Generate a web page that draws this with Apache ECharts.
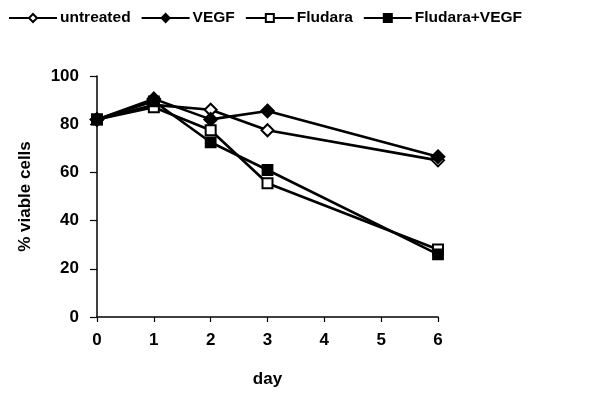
<!DOCTYPE html>
<html>
<head>
<meta charset="utf-8">
<script src="https://cdn.jsdelivr.net/npm/echarts@6/dist/echarts.min.js"></script>
<style>
  html, body { margin: 0; padding: 0; background: #fff; }
  #chart { width: 595px; height: 397px; }
</style>
</head>
<body>
<div id="chart"></div>
<script>
// Viability of cells over time under four treatments
const days = [0, 1, 2, 3, 6];
const untreated = [82, 88, 86, 77.5, 65];
const vegf = [82, 90.5, 82, 85.5, 66.5];
const fludara = [82, 87, 77.5, 55.5, 28];
const fludaraVegf = [82, 89.5, 72.5, 61, 26];
const seriesNames = ['untreated', 'VEGF', 'Fludara', 'Fludara+VEGF'];
const seriesSymbols = ['emptyDiamond', 'diamond', 'emptyRect', 'rect'];
const seriesSizes = [12, 13, 10, 10];
const seriesValues = [untreated, vegf, fludara, fludaraVegf];

const font = 'Liberation Sans, Arial, sans-serif';

const chart = echarts.init(document.getElementById('chart'), null, { renderer: 'canvas' });

chart.setOption({
  animation: false,
  backgroundColor: '#fff',
  legend: {
    top: 5,
    left: 3,
    itemWidth: 48,
    itemHeight: 10,
    itemGap: 10,
    textStyle: { color: '#000', fontFamily: font, fontSize: 15.5, fontWeight: 'bold', padding: [0, 0, 0, -2] },
    data: seriesNames
  },
  grid: { left: 97, right: 157, top: 76, bottom: 80 },
  xAxis: {
    type: 'value',
    min: 0,
    max: 6,
    interval: 1,
    name: 'day',
    nameLocation: 'middle',
    nameGap: 54,
    nameTextStyle: { color: '#000', fontFamily: font, fontSize: 17, fontWeight: 'bold' },
    axisLine: { lineStyle: { color: '#000', width: 1.5 } },
    axisTick: { length: 5, lineStyle: { color: '#000', width: 1.2 } },
    axisLabel: { color: '#000', fontFamily: font, fontSize: 17, fontWeight: 'bold', margin: 15 },
    splitLine: { show: false }
  },
  yAxis: {
    type: 'value',
    min: 0,
    max: 100,
    interval: 20,
    name: '% viable cells',
    nameLocation: 'middle',
    nameGap: 63,
    nameTextStyle: { color: '#000', fontFamily: font, fontSize: 17, fontWeight: 'bold' },
    axisLine: { show: true, lineStyle: { color: '#000', width: 1.5 } },
    axisTick: { show: true, length: 7, lineStyle: { color: '#000', width: 1.2 } },
    axisLabel: { color: '#000', fontFamily: font, fontSize: 17, fontWeight: 'bold', margin: 18 },
    splitLine: { show: false }
  },
  series: seriesNames.map((name, i) => ({
    name: name,
    type: 'line',
    data: days.map((d, j) => [d, seriesValues[i][j]]),
    symbol: seriesSymbols[i],
    symbolSize: seriesSizes[i],
    showAllSymbol: true,
    lineStyle: { color: '#000', width: 2.6 },
    itemStyle: { color: '#000', borderColor: '#000', borderWidth: 1.8 },
    z: 2 + i
  }))
});
</script>
</body>
</html>
